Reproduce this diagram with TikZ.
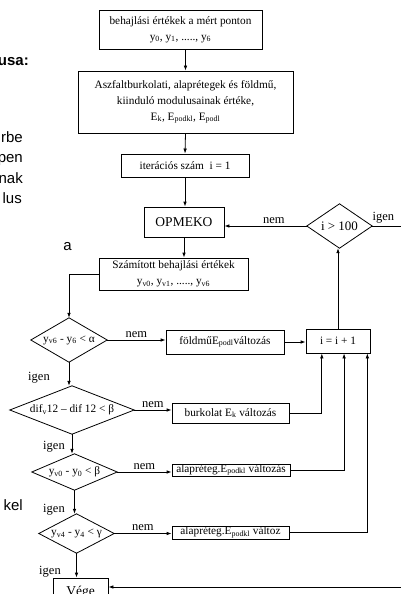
\documentclass[tikz,border=0pt]{standalone}
\usepackage{fontspec}
\setmainfont{Liberation Serif}
\newfontfamily\slidefont{Liberation Sans}
\usetikzlibrary{arrows.meta,calc,positioning}

\tikzset{
  box/.style={draw,line width=0.8pt,inner sep=1pt,align=center,font=\fontsize{11.3}{16}\selectfont},
  test/.style={inner sep=0pt,font=\fontsize{11.3}{13}\selectfont},
  lbl/.style={inner sep=0pt,font=\fontsize{12.5}{14}\selectfont},
  side/.style={inner sep=0pt,anchor=base east,font=\slidefont\fontsize{15}{18}\selectfont},
  flow/.style={line width=0.8pt,-{Latex[length=5pt,width=3.6pt]}},
  wire/.style={line width=0.8pt}
}

\begin{document}
\begin{tikzpicture}[x=1pt,y=-1pt]
\useasboundingbox (0,0) rectangle (401,594);
\clip (0,0) rectangle (401,594);

% cut-off slide text on the left
\node[side,font=\slidefont\bfseries\fontsize{15}{18}\selectfont] (s1) at (29,66) {usa:};
\node[side] (s2) at (23,142) {rbe};
\node[side] (s3) at (23,162.5) {pen};
\node[side] (s4) at (23,183) {nak};
\node[side] (s5) at (22,203.5) {lus};
\node[side] (s6) at (72,250) {a};
\node[side] (s7) at (23,510) {kel};

% boxes
\node[box,minimum width=163pt,minimum height=39pt] (meas) at (180.5,29.5)
  {behajlási értékek a mért ponton\\y\textsubscript{0}, y\textsubscript{1}, ....., y\textsubscript{6}};
\node[box,minimum width=215pt,minimum height=62pt] (init) at (185.5,102)
  {Aszfaltburkolati, alaprétegek és földmű,\\kiinduló modulusainak értéke,\\E\textsubscript{k}, E\textsubscript{podkl}, E\textsubscript{podl}};
\node[box,minimum width=128pt,minimum height=23pt] (iter) at (185,165.5) {iterációs szám\ \ i = 1};
\node[box,minimum width=80pt,minimum height=30pt,font=\fontsize{13.5}{15}\selectfont] (opm) at (184,222) {OPMEKO};
\node[box,minimum width=149pt,minimum height=32pt] (szam) at (173.5,274)
  {Számított behajlási értékek\\y\textsubscript{v0}, y\textsubscript{v1}, ....., y\textsubscript{v6}};
\node[box,minimum width=118pt,minimum height=24pt] (foldmu) at (225,342) {földműE\textsubscript{podl}változás};
\node[box,minimum width=64pt,minimum height=24pt] (inc) at (338,341) {i = i + 1};
\node[box,minimum width=117pt,minimum height=20pt] (burk) at (230.5,413) {burkolat E\textsubscript{k} változás};
\node[box,inner sep=0pt,minimum width=118pt,minimum height=12pt] (alap1) at (231,470) {alapréteg.E\textsubscript{podkl} változás};
\node[box,inner sep=0pt,minimum width=117pt,minimum height=13pt] (alap2) at (230.5,532.5) {alapréteg.E\textsubscript{podkl} változ};
\node[box,minimum width=55pt,minimum height=28pt,font=\fontsize{13.5}{15}\selectfont] (vege) at (80.5,592) {Vége};

% decisions
\node[test,minimum width=76pt,minimum height=44pt] (d1) at (69,340) {y\textsubscript{v6} - y\textsubscript{6} < α};
\node[test,minimum width=124pt,minimum height=48pt] (d2) at (72,410) {dif\textsubscript{v}12 – dif 12 < β};
\node[test,minimum width=85pt,minimum height=36pt] (d3) at (74.5,472) {y\textsubscript{v0} - y\textsubscript{0} < β};
\node[test,minimum width=75pt,minimum height=39pt] (d4) at (76.5,533.5) {y\textsubscript{v4} - y\textsubscript{4} < γ};
\node[test,minimum width=65pt,minimum height=44pt,font=\fontsize{13}{15}\selectfont] (d5) at (339.5,226) {i > 100};
\foreach \d in {d1,d2,d3,d4,d5}
  \draw[wire] (\d.north) -- (\d.east) -- (\d.south) -- (\d.west) -- cycle;

% inputs of i = i + 1 and the ends outside the picture
\coordinate (in1) at ($(inc.south west)!0.25!(inc.south east)$);
\coordinate (in2) at ($(inc.south west)!0.594!(inc.south east)$);
\coordinate (in3) at ($(inc.south west)!0.953!(inc.south east)$);
\coordinate (out) at (410,226);
\coordinate (back) at (410,587);

% main line
\draw[flow] (init.north |- meas.south) -- (init.north);
\draw[flow] (init.south) -- (iter.north);
\draw[flow] (iter.south) -- (iter.south |- opm.north);
\draw[flow] (opm.south) -- (opm.south |- szam.north);
\draw[flow] (szam.west) -| (d1.north);
\draw[flow] (d1.south) -- (d1.south |- d2.north);
\draw[flow] (d2.south) -- (d2.south |- d3.north);
\draw[flow] (d3.south) -- (d3.south |- d4.north);
\draw[flow] (d4.south) -- (d4.south |- vege.north);
\node[lbl] (y1) at (39,378) {igen};
\node[lbl] (y2) at (54,447) {igen};
\node[lbl] (y3) at (54,510) {igen};
\node[lbl] (y4) at (50,572) {igen};

% nem branches
\draw[flow] (d1.east) -- (d1.east -| foldmu.west) node[lbl,midway,above=2pt] {nem};
\draw[flow] (d2.east) -- (d2.east -| burk.west) node[lbl,midway,above=2pt] {nem};
\draw[flow] (d3.east) -- (d3.east -| alap1.west) node[lbl,midway,above=2pt] {nem};
\draw[flow] (d4.east) -- (d4.east -| alap2.west) node[lbl,midway,above=2pt] {nem};
\draw[flow] (foldmu.east) -- (foldmu.east -| inc.west);
\draw[flow] (burk.east) -| (in1);
\draw[flow] (alap1.east) -| (in2);
\draw[flow] (alap2.east) -| (in3);

% loop
\draw[flow] (inc.north) -- (inc.north |- d5.south);
\draw[flow] (d5.west) -- (d5.west -| opm.east) node[lbl,pos=0.4,above=2pt] {nem};
\draw[wire] (d5.east) -- (out) node[lbl,pos=0,anchor=south west,yshift=2pt] {igen};
\draw[flow] (back) -- (back -| vege.east);
\end{tikzpicture}
\end{document}
